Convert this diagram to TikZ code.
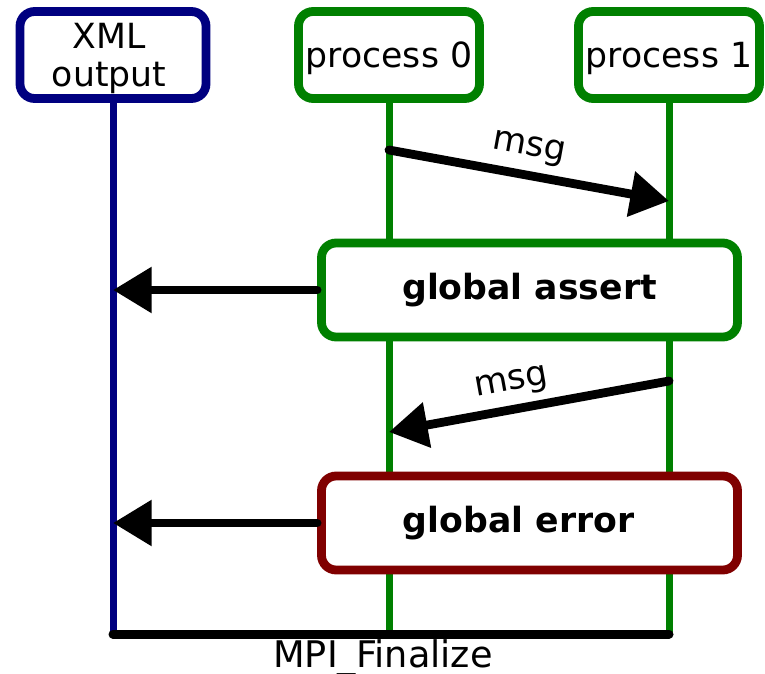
\documentclass[tikz,border=0pt]{standalone}
\usepackage{fontspec}
\setmainfont{DejaVu Sans}
\usetikzlibrary{arrows.meta}
\definecolor{outnavy}{RGB}{0,0,128}
\definecolor{procgreen}{RGB}{0,128,0}
\definecolor{errred}{RGB}{128,0,0}
\newcommand{\headstrut}{\rule{0pt}{23.5pt}}
\begin{document}
\begin{tikzpicture}[x=0.75pt,y=-0.75pt,
  txt/.style={font=\fontsize{26}{28.5}\selectfont, inner sep=0pt},
  box/.style={txt, draw, line width=6.6pt, rounded corners=11pt, fill=white, align=center},
  head/.style={box, minimum width=135.75pt, minimum height=65.25pt},
  wide/.style={box, minimum width=312pt, minimum height=70.5pt, font=\fontsize{26}{28.5}\selectfont\bfseries},
  lifeline/.style={line width=5.25pt},
  msgarrow/.style={line width=6.6pt, line cap=round, -{Triangle[length=29pt,width=33pt]}},
  msglabel/.style={txt}
]
\useasboundingbox (0,0) rectangle (765,674);

% participants
\node[head, draw=outnavy, minimum width=139.5pt] (xml) at (113,55) {\headstrut XML\kern6pt\\output\kern6pt};
\node[head, draw=procgreen] (p0) at (389,55) {\headstrut process 0};
\node[head, draw=procgreen] (p1) at (669,55) {\headstrut process 1};

% lifeline ends
\coordinate (xmlend) at (113,634);
\coordinate (p0end) at (389,634);
\coordinate (p1end) at (669,634);

\draw[lifeline, outnavy] (xml.south) -- (xmlend);
\draw[lifeline, procgreen] (p0.south) -- (p0end);
\draw[lifeline, procgreen] (p1.south) -- (p1end);

% collective operations
\node[wide, draw=procgreen] (assert) at (529.5,290) {global assert};
\node[wide, draw=errred] (error) at (529.5,523) {\kern-16.5pt global error};

% point-to-point messages
\coordinate (m1s) at (389,150);
\coordinate (m1e) at (669,201);
\coordinate (m2s) at (669,381);
\coordinate (m2e) at (389,432);
\draw[msgarrow] (m1s) -- (m1e);
\node[msglabel, rotate=-10.3] (l1) at (529,149) {msg};
\draw[msgarrow] (m2s) -- (m2e);
\node[msglabel, rotate=10.3] (l2) at (512,384) {msg};

% reports to the XML output
\draw[msgarrow] (assert.west) -- (assert.west -| xml.south);
\draw[msgarrow] (error.west) -- (error.west -| xml.south);

% finalize barrier
\draw[line width=6.75pt, line cap=round] (xmlend) -- (p1end);
\node[txt, font=\fontsize{27.5}{30}\selectfont, anchor=base] (fin) at (383,667) {MPI\_Finalize};
\end{tikzpicture}
\end{document}
